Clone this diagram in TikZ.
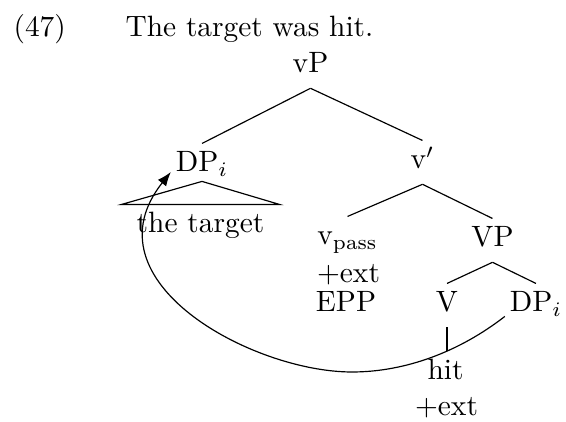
\documentclass[tikz,border=0pt]{standalone}
\usetikzlibrary{arrows.meta}
\begin{document}
\begin{tikzpicture}[x=0.34pt,y=-0.34pt,line width=0.4pt,
  lbl/.style={inner sep=0pt,anchor=base},
  tn/.style={inner xsep=0pt,inner ysep=5pt,text height=4.5pt,text depth=0pt,anchor=base}]
\useasboundingbox (0,0) rectangle (566,422);

% example number and sentence
\node[lbl,anchor=base west] (num) at (13,37) {(47)};
\node[lbl,anchor=base west] (title) at (125,37) {The target was hit.};

% tree nodes
\node[tn] (vP) at (310.5,73) {vP};
\node[tn] (DP) at (202,172) {DP$_i$};
\node[tn] (vbar) at (422.5,169) {v$'$};
\node[tn] (tgt) at (200.5,233) {the target};
\node[tn] (vpass) at (347.5,245) {v$_{\mathrm{pass}}$};
\node[lbl] (ext1) at (348.5,283) {$+$ext};
\node[lbl] (epp) at (346,312) {EPP};
\node[tn] (VP) at (492.5,247) {VP};
\node[tn] (V) at (447,312) {V};
\node[tn] (DPt) at (536,312) {DP$_i$};
\node[tn] (hit) at (445.5,380) {hit};
\node[lbl] (ext2) at (446.5,416) {$+$ext};

% branches
\draw (vP.south) -- (DP.north);
\draw (vP.south) -- (vbar.north);
\draw (vbar.south) -- (vpass.north);
\draw (vbar.south) -- (VP.north);
\draw (VP.south) -- (V.north);
\draw (VP.south) -- (DPt.north);
\draw (V.south) -- (V.south |- hit.north);

% roof over the DP
\draw ([xshift=-5pt]tgt.north west) -- ([yshift=2pt]DP.south) -- ([xshift=5pt]tgt.north east) -- cycle;

% movement arrow from the trace position back to the moved DP
\coordinate (low) at (352,372);
\draw[-{Latex}] ([xshift=-1.5pt,yshift=-1.5pt]DPt.base west)
  .. controls (459,352) and (405,372) .. (low)
  .. controls (252,372) and (84,281) .. ([xshift=-1.5pt]DP.base west);
\end{tikzpicture}
\end{document}
